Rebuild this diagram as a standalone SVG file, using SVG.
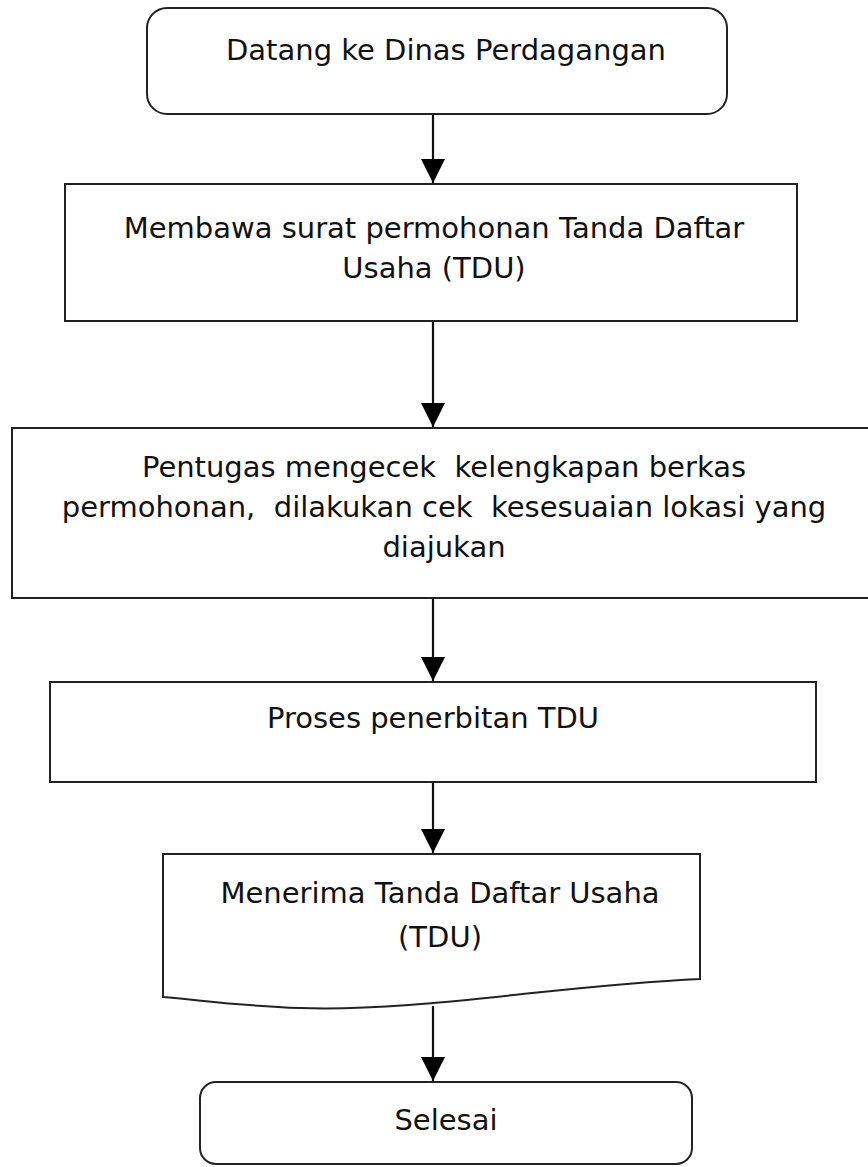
<svg xmlns="http://www.w3.org/2000/svg" width="868" height="1167" viewBox="0 0 868 1167">
<style>
.box{fill:#fff;stroke:#222;stroke-width:2}
.t{font-family:"DejaVu Sans",Verdana,sans-serif;font-size:29px;fill:#111;text-anchor:middle;white-space:pre}
.c{stroke:#111;stroke-width:2.2;fill:none}
</style>
<defs>
<marker id="ah" markerUnits="userSpaceOnUse" markerWidth="26" markerHeight="24" refX="24" refY="12" orient="auto">
<path d="M0,0 L24,12 L0,24 Z" fill="#000"/>
</marker>
</defs>
<rect width="868" height="1167" fill="#fff"/>
<g id="connectors">
<line class="c" x1="433" y1="114" x2="433" y2="183" marker-end="url(#ah)"/>
<line class="c" x1="433" y1="321" x2="433" y2="427" marker-end="url(#ah)"/>
<line class="c" x1="433" y1="598" x2="433" y2="681" marker-end="url(#ah)"/>
<line class="c" x1="433" y1="782" x2="433" y2="853" marker-end="url(#ah)"/>
<line class="c" x1="433" y1="1006" x2="433" y2="1081" marker-end="url(#ah)"/>
</g>
<g id="n1">
<rect class="box" x="147" y="8" width="580" height="106" rx="20"/>
<text class="t" x="446" y="60">Datang ke Dinas Perdagangan</text>
</g>
<g id="n2">
<rect class="box" x="65" y="184" width="732" height="137"/>
<text class="t" x="434" y="238">Membawa surat permohonan Tanda Daftar</text>
<text class="t" x="434" y="278">Usaha (TDU)</text>
</g>
<g id="n3">
<rect class="box" x="12" y="428" width="858" height="170"/>
<text class="t" x="444" y="477">Pentugas mengecek  kelengkapan berkas</text>
<text class="t" x="444" y="517">permohonan,  dilakukan cek  kesesuaian lokasi yang</text>
<text class="t" x="444" y="557">diajukan</text>
</g>
<g id="n4">
<rect class="box" x="50" y="682" width="766" height="100"/>
<text class="t" x="433" y="728">Proses penerbitan TDU</text>
</g>
<g id="n5">
<path class="box" d="M163,854 L700,854 L700,979 C560,985 420,1012 300,1008 C240,1006 200,1000 163,997 Z"/>
<text class="t" x="440" y="903">Menerima Tanda Daftar Usaha</text>
<text class="t" x="440" y="947">(TDU)</text>
</g>
<g id="n6">
<rect class="box" x="200" y="1082" width="492" height="82" rx="16"/>
<text class="t" x="446" y="1130">Selesai</text>
</g>
</svg>
